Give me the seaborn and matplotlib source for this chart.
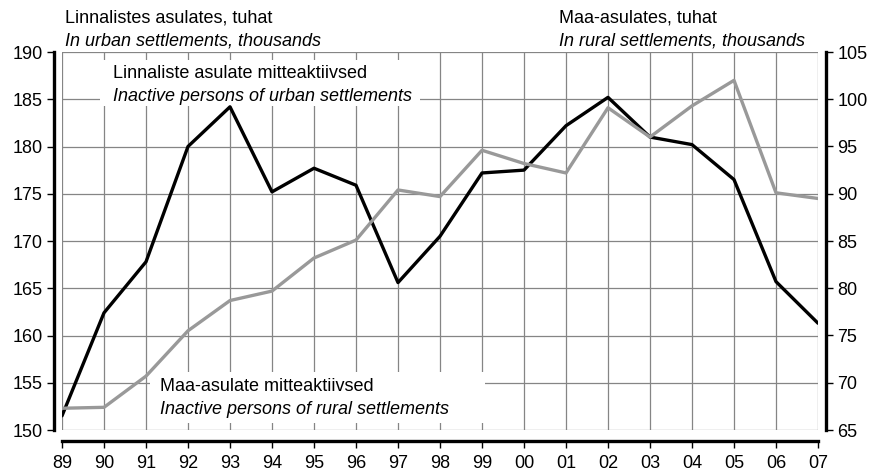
import pandas as pd
import matplotlib.pyplot as plt
import seaborn as sns
from matplotlib.patches import Rectangle

# years on the x axis
years = ['89', '90', '91', '92', '93', '94', '95', '96', '97', '98',
         '99', '00', '01', '02', '03', '04', '05', '06', '07']
# inactive persons of urban settlements, thousands (left axis)
urban = [151.5, 162.4, 167.8, 180.0, 184.2, 175.2, 177.7, 175.9, 165.6, 170.5,
         177.2, 177.5, 182.2, 185.2, 181.0, 180.2, 176.5, 165.7, 161.3]
# inactive persons of rural settlements, thousands (right axis)
rural = [67.3, 67.4, 70.7, 75.5, 78.7, 79.7, 83.2, 85.1, 90.4, 89.7,
         94.6, 93.2, 92.2, 99.1, 96.0, 99.3, 102.0, 90.1, 89.5]

df = pd.DataFrame({'pos': range(len(years)), 'year': years,
                   'urban': urban, 'rural': rural})

sns.set_style('white')
plt.rcParams['font.family'] = ['Liberation Sans', 'DejaVu Sans']
plt.rcParams.update({'text.color': 'black', 'xtick.color': 'black',
                     'ytick.color': 'black', 'axes.labelcolor': 'black'})

fig = plt.figure(figsize=(8.74, 4.73), dpi=100)
ax = fig.add_axes([62 / 874, 1 - 430 / 473, 756 / 874, 378 / 473])
ax2 = ax.twinx()

sns.lineplot(data=df, x='pos', y='urban', ax=ax, color='black', linewidth=2.4, zorder=3)
sns.lineplot(data=df, x='pos', y='rural', ax=ax2, color='#999999', linewidth=2.4, zorder=3)

ax.set_xlim(0, len(years) - 1)
ax.set_ylim(150, 190)
ax2.set_ylim(65, 105)
ax.set_yticks(range(150, 191, 5))
ax2.set_yticks(range(65, 106, 5))
ax.set_xticks(df['pos'])
ax.set_xticklabels(years)
ax.set_xlabel('')
ax.set_ylabel('')
ax2.set_ylabel('')

ax.grid(True, color='#858585', linewidth=0.9)
ax.set_axisbelow(True)

for a in (ax, ax2):
    for s in a.spines.values():
        s.set_visible(False)
ax.spines['left'].set_visible(True)
ax.spines['left'].set_position(('outward', 6))
ax.spines['left'].set_linewidth(2.4)
ax.spines['left'].set_color('black')
ax.spines['bottom'].set_visible(True)
ax.spines['bottom'].set_position(('outward', 8))
ax.spines['bottom'].set_linewidth(2.4)
ax.spines['bottom'].set_color('black')
ax2.spines['right'].set_visible(True)
ax2.spines['right'].set_position(('outward', 6))
ax2.spines['right'].set_linewidth(2.4)
ax2.spines['right'].set_color('black')

fs = 13
ax.tick_params(axis='y', left=True, length=5, width=1, labelsize=fs, pad=3)
ax.tick_params(axis='x', bottom=True, length=5, width=1, labelsize=fs, pad=5)
ax2.tick_params(axis='y', right=True, length=5, width=1, labelsize=fs, pad=3)

fig.text(65 / 874, 1 - 18 / 473, 'Linnalistes asulates, tuhat', fontsize=fs, va='center')
fig.text(65 / 874, 1 - 41 / 473, 'In urban settlements, thousands', fontsize=fs,
         va='center', style='italic')
fig.text(559 / 874, 1 - 18 / 473, 'Maa-asulates, tuhat', fontsize=fs, va='center')
fig.text(559 / 874, 1 - 41 / 473, 'In rural settlements, thousands', fontsize=fs,
         va='center', style='italic')

# white boxes behind the series labels
ax.add_patch(Rectangle((0.050, 0.857), 0.424, 0.122, transform=ax.transAxes,
                       facecolor='white', edgecolor='none', zorder=1.5))
ax.add_patch(Rectangle((0.116, 0.019), 0.444, 0.134, transform=ax.transAxes,
                       facecolor='white', edgecolor='none', zorder=1.5))

ax.text(0.0675, 0.944, 'Linnaliste asulate mitteaktiivsed', transform=ax.transAxes,
        fontsize=fs, va='center', ha='left', zorder=2)
ax.text(0.0675, 0.881, 'Inactive persons of urban settlements', transform=ax.transAxes,
        fontsize=fs, va='center', ha='left', style='italic', zorder=2)
ax.text(0.130, 0.116, 'Maa-asulate mitteaktiivsed', transform=ax.transAxes,
        fontsize=fs, va='center', ha='left', zorder=2)
ax.text(0.130, 0.053, 'Inactive persons of rural settlements', transform=ax.transAxes,
        fontsize=fs, va='center', ha='left', style='italic', zorder=2)

fig.savefig('out.png', dpi=100)
